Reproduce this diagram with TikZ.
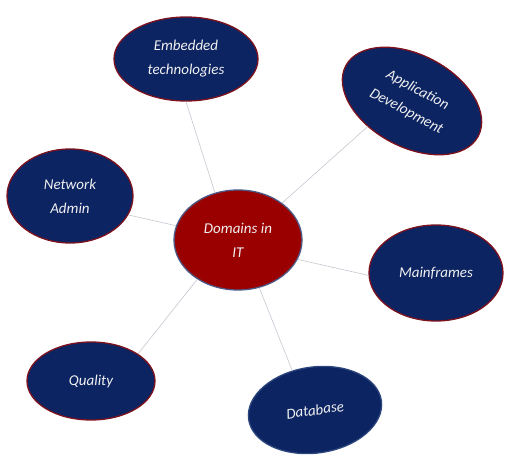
\documentclass[tikz,border=0pt]{standalone}
\usepackage{fontspec}
\setmainfont{Carlito}
\usetikzlibrary{shapes.geometric}
\definecolor{navy}{RGB}{12,36,98}
\definecolor{rimred}{RGB}{125,18,30}
\definecolor{domred}{RGB}{155,0,0}
\definecolor{domrim}{RGB}{75,90,135}
\definecolor{dbrim}{RGB}{45,70,125}
\definecolor{linkgray}{RGB}{195,200,208}
\definecolor{txt}{RGB}{240,240,240}
\tikzset{
  bubble/.style={ellipse, draw=rimred, line width=1.3pt, fill=navy, inner sep=0pt,
    text=txt, align=center, font=\fontsize{15}{24}\selectfont\itshape},
  hub/.style={bubble, fill=domred, draw=domrim},
  link/.style={draw=linkgray, line width=0.6pt}
}
\begin{document}
\begin{tikzpicture}[x=1pt,y=-1pt]
\useasboundingbox (0,0) rectangle (512,468);
\node[hub, minimum width=128pt, minimum height=100pt] (dom) at (238,240) {Domains in\\IT};
\node[bubble, minimum width=144pt, minimum height=84pt] (emb) at (186,59) {Embedded\\technologies};
\node[bubble, minimum width=150pt, minimum height=92pt, rotate=-28] (app) at (412,101) {Application\\Development};
\node[bubble, minimum width=126pt, minimum height=94pt] (net) at (70,196) {Network\\Admin};
\node[bubble, minimum width=134pt, minimum height=96pt] (mf) at (436,273) {Mainframes};
\node[bubble, minimum width=128pt, minimum height=78pt] (qual) at (91,381) {Quality};
\node[bubble, draw=dbrim, minimum width=134pt, minimum height=86pt, rotate=8] (db) at (315,410) {Database};
\begin{scope}[on background layer/.style={}]
\end{scope}
\draw[link] (emb.south) -- (dom.116);
\draw[link] (dom.40) -- (app.238);
\draw[link] (net.-18) -- (dom.167);
\draw[link] (dom.-18) -- (mf.182);
\draw[link] (qual.30) -- (dom.224);
\draw[link] (dom.-66) -- (db.112);
\end{tikzpicture}
\end{document}
